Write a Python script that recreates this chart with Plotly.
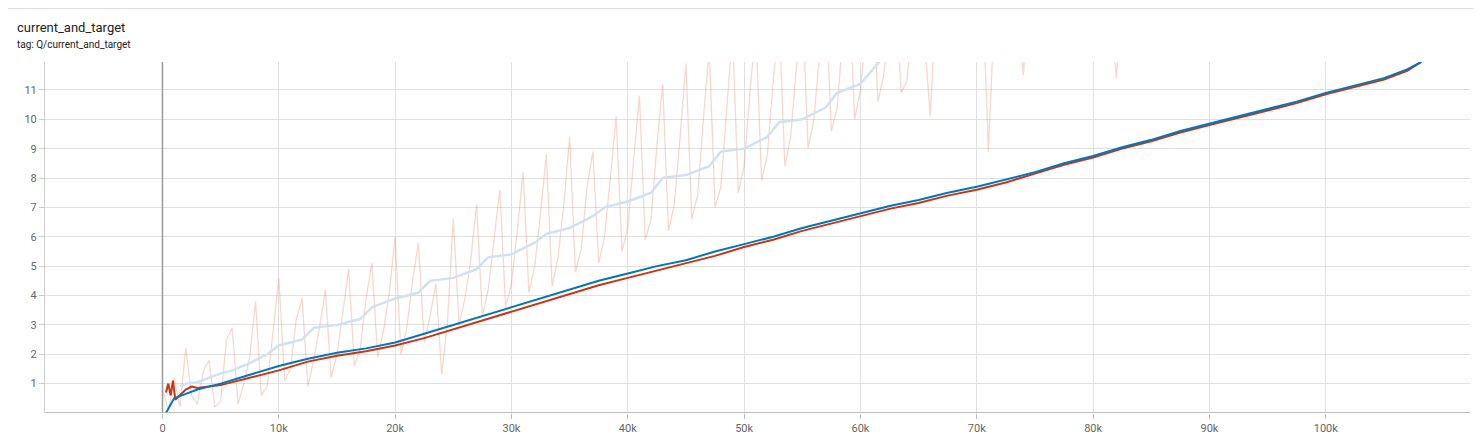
"""TensorBoard style scalar chart: Q/current_and_target."""
import plotly.graph_objects as go

# steps in thousands
cur_x = [0.3, 0.6, 1, 2, 3, 5, 7.5, 10, 12.5, 15, 17.5, 20, 22.5, 25, 27.5, 30, 32.5, 35, 37.5, 40,
         42.5, 45, 47.5, 50, 52.5, 55, 57.5, 60, 62.5, 65, 67.5, 70, 72.5, 75, 77.5, 80, 82.5, 85,
         87.5, 90, 92.5, 95, 97.5, 100, 102.5, 105, 107, 108.2]
current = [0.0, 0.2, 0.5, 0.65, 0.8, 1.0, 1.3, 1.6, 1.85, 2.05, 2.2, 2.4, 2.7, 3.0, 3.3, 3.6, 3.9, 4.2,
           4.5, 4.75, 5.0, 5.2, 5.5, 5.75, 6.0, 6.3, 6.55, 6.8, 7.05, 7.25, 7.5, 7.7, 7.95, 8.2, 8.5,
           8.75, 9.05, 9.3, 9.6, 9.85, 10.1, 10.35, 10.6, 10.9, 11.15, 11.4, 11.7, 11.95]
tgt_x = [0.3, 0.5, 0.7, 0.9, 1.1, 1.5, 2, 2.5, 3, 4, 5, 7.5, 10, 12.5, 15, 17.5, 20, 22.5, 25, 27.5,
         30, 32.5, 35, 37.5, 40, 42.5, 45, 47.5, 50, 52.5, 55, 57.5, 60, 62.5, 65, 67.5, 70, 72.5, 75,
         77.5, 80, 82.5, 85, 87.5, 90, 92.5, 95, 97.5, 100, 102.5, 105, 107, 108.2]
target = [0.7, 1.0, 0.6, 1.1, 0.45, 0.6, 0.8, 0.9, 0.85, 0.9, 0.95, 1.2, 1.45, 1.75, 1.95, 2.1, 2.3,
          2.55, 2.85, 3.15, 3.45, 3.75, 4.05, 4.35, 4.6, 4.85, 5.1, 5.35, 5.65, 5.9, 6.2, 6.45, 6.7,
          6.95, 7.15, 7.4, 7.6, 7.85, 8.15, 8.45, 8.7, 9.0, 9.25, 9.55, 9.8, 10.05, 10.3, 10.55, 10.85,
          11.1, 11.35, 11.65, 11.95]
smooth_x = [1.5, 2, 3, 4, 5, 6, 7.5, 9, 10, 12, 13, 15, 17, 18, 20, 22, 23, 25, 27, 28, 30, 32, 33,
            35, 37, 38, 40, 42, 43, 45, 47, 48, 50, 52, 53, 55, 57, 58, 60, 61.5, 63]
smooth = [0.9, 1.0, 1.05, 1.2, 1.35, 1.45, 1.7, 2.0, 2.3, 2.5, 2.9, 3.0, 3.2, 3.6, 3.9, 4.1, 4.5, 4.6,
          4.9, 5.3, 5.4, 5.8, 6.1, 6.3, 6.7, 7.0, 7.2, 7.5, 8.0, 8.1, 8.4, 8.9, 9.0, 9.4, 9.9, 10.0,
          10.4, 10.9, 11.2, 11.9, 12.6]
raw_x = [i * 0.5 for i in range(0, 168)]
raw = [0.8, 0.1, 1.2, 0.2, 2.2, 0.6, 0.3, 1.4, 1.8, 0.2, 0.4, 2.5, 2.9, 0.3, 1.0, 1.9, 3.8, 0.6, 0.9,
       2.7, 4.6, 1.1, 1.5, 3.2, 3.9, 0.9, 1.8, 2.9, 4.2, 1.2, 2.0, 3.4, 4.9, 1.6, 2.2, 3.9, 5.1, 1.9,
       2.8, 4.1, 6.0, 2.0, 2.9, 4.5, 5.8, 2.4, 3.3, 4.4, 1.3, 3.1, 6.6, 3.0, 3.9, 5.2, 7.1, 3.3, 4.2,
       5.9, 7.6, 3.6, 4.4, 6.2, 8.2, 4.1, 5.0, 6.8, 8.8, 4.3, 5.3, 7.1, 9.4, 4.8, 5.6, 7.7, 8.9, 5.1,
       6.0, 8.0, 10.1, 5.5, 6.3, 8.6, 10.8, 5.9, 6.6, 9.1, 11.2, 6.2, 7.1, 9.4, 11.9, 6.6, 7.4, 10.0,
       12.4, 7.0, 7.7, 10.3, 13.0, 7.5, 8.4, 10.9, 13.2, 7.9, 8.8, 11.3, 13.5, 8.4, 9.4, 11.8, 14.0,
       9.0, 10.0, 12.3, 14.2, 9.6, 10.4, 12.9, 14.8, 10.0, 11.0, 13.1, 15.0, 10.6, 11.5, 13.4, 14.6,
       10.9, 11.3, 13.6, 15.1, 12.8, 10.1, 13.9, 14.8, 13.2, 12.5, 14.1, 15.2, 13.6, 12.3, 14.4, 8.9,
       13.5, 14.9, 13.8, 12.6, 14.3, 11.5, 14.0, 15.0, 13.7, 13.0, 14.6, 15.3, 13.9, 12.8, 14.4, 15.1,
       14.0, 13.2, 14.5, 14.7, 13.8, 11.4, 14.2, 14.9, 13.6]
x_ticks = [0, 10, 20, 30, 40, 50, 60, 70, 80, 90, 100]
y_ticks = [1, 2, 3, 4, 5, 6, 7, 8, 9, 10, 11]

fig = go.Figure()
fig.add_trace(go.Scatter(x=raw_x, y=raw, mode="lines", line=dict(color="rgba(232,130,100,0.32)", width=1.3)))
fig.add_trace(go.Scatter(x=smooth_x, y=smooth, mode="lines", line=dict(color="#cfe2f0", width=2.5)))
fig.add_trace(go.Scatter(x=tgt_x, y=target, mode="lines", line=dict(color="#cc3311", width=2)))
fig.add_trace(go.Scatter(x=cur_x, y=current, mode="lines", line=dict(color="#0077bb", width=2)))

fig.add_vline(x=0, line_color="#999999", line_width=1.5)
fig.add_shape(type="line", xref="paper", yref="paper", x0=-0.05, x1=1.05, y0=1.152, y1=1.152,
              line=dict(color="#dddddd", width=1))
fig.add_annotation(text="current_and_target", xref="paper", yref="paper", x=-0.021, y=1.097,
                   xanchor="left", yanchor="middle", showarrow=False, font=dict(size=13, color="#212121"))
fig.add_annotation(text="tag: Q/current_and_target", xref="paper", yref="paper", x=-0.021, y=1.051,
                   xanchor="left", yanchor="middle", showarrow=False, font=dict(size=10, color="#212121"))

fig.update_layout(
    width=1481, height=446, showlegend=False,
    margin=dict(l=37, r=19, t=54, b=41),
    plot_bgcolor="white", paper_bgcolor="white",
    font=dict(family="Roboto", size=11, color="#666666"),
    xaxis=dict(range=[-10.1, 112.4], tickvals=x_ticks,
               ticktext=["0"] + ["%dk" % v for v in x_ticks[1:]],
               showgrid=True, gridcolor="#e0e0e0", zeroline=False,
               ticks="outside", ticklen=5, tickcolor="#bbbbbb"),
    yaxis=dict(range=[0, 11.95], tickvals=y_ticks, showgrid=True, gridcolor="#e0e0e0",
               zeroline=False, showline=True, linecolor="#cccccc", ticks="outside", ticklen=5,
               tickcolor="#cccccc"),
)
fig.add_hline(y=0, line_color="#aaaaaa", line_width=1.5)
fig.write_html("out.html")
